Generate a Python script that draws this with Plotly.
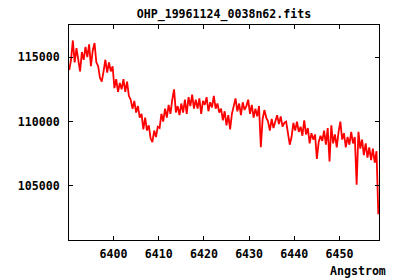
import plotly.graph_objects as go

title_text = "OHP_19961124_0038n62.fits"
x_label = "Angstrom"
wl_start = 6390.2
wl_step = 0.4

flux = [
    114000, 114800, 116300, 114600, 115700, 114900, 113900, 115400, 114800, 115800,
    115000, 116000, 114300, 115500, 116100, 114600, 114300, 113400, 113100, 113900,
    114800, 113800, 114600, 113900, 114300, 112600, 113300, 112300, 113000, 112500,
    113300, 112300, 113100, 112000, 111700, 111000, 111600, 110700, 111200, 110300,
    110600, 109400, 110300, 109300, 109700, 108700, 108400, 109300, 108800, 109600,
    109500, 110600, 110000, 111000, 110300, 111300, 110600, 111700, 112500, 110700,
    111200, 110500, 111400, 110700, 111700, 110600, 111900, 111200, 112100, 111000,
    111700, 111000, 111800, 110600, 111600, 111300, 111900, 110800, 111500, 111100,
    112000, 111000, 111400, 110700, 111000, 110100, 110800, 109700, 110500, 109400,
    110600, 111200, 111800, 110800, 111400, 110500, 111500, 110900, 111200, 111700,
    110600, 111300, 110300, 111000, 110400, 111200, 108000, 110200, 110900, 110300,
    110000, 109300, 110200, 109500, 110000, 110500, 109800, 110400, 109600, 109900,
    110000, 109000, 108200, 108800, 109900, 109300, 110000, 109200, 109600, 108900,
    110100, 109000, 109500, 108300, 109100, 108600, 109000, 107100, 108400, 108900,
    108500, 109300, 108200, 109500, 106900, 109700, 108300, 109000, 108000, 109200,
    110000, 108600, 109100, 108000, 108800, 108200, 109200, 108300, 108800, 105100,
    109200, 107900, 108600, 107400, 108300, 107200, 108000, 107000, 107900, 106800,
    107700, 102800,
]
wavelength = [round(wl_start + wl_step * i, 2) for i in range(len(flux))]

x_ticks = [6400, 6410, 6420, 6430, 6440, 6450]
y_ticks = [105000, 110000, 115000]

font_family = "DejaVu Sans Mono"
tick_font = dict(family=font_family, size=11.6, color="black", weight="bold")

fig = go.Figure()
fig.add_trace(go.Scatter(
    x=wavelength, y=flux, mode="lines",
    line=dict(color="#ff0000", width=1.8),
    showlegend=False, hoverinfo="skip",
))

axis_common = dict(
    showline=True, linecolor="black", linewidth=1, mirror="allticks",
    ticks="inside", ticklen=4, tickcolor="black", tickwidth=1,
    showgrid=False, zeroline=False, tickfont=tick_font,
)

fig.update_layout(
    width=400, height=280,
    margin=dict(l=69, r=21, t=25, b=40),
    paper_bgcolor="white", plot_bgcolor="white",
    title=dict(text=title_text, x=0.5, xref="paper", xanchor="center",
               y=1 - 14 / 280, yanchor="middle", yref="container",
               font=dict(family=font_family, size=11.6, color="black", weight="bold")),
    xaxis=dict(range=[6390.15, 6458.75], tickvals=x_ticks,
               ticktext=[str(v) for v in x_ticks], ticklabelstandoff=3, **axis_common),
    yaxis=dict(range=[100800, 117500], tickvals=y_ticks,
               ticktext=[str(v) for v in y_ticks], ticklabelstandoff=6, **axis_common),
    annotations=[dict(text=x_label, xref="paper", yref="paper",
                      x=(388 - 69) / 310, y=(240 - 271) / 215,
                      xanchor="right", yanchor="middle", showarrow=False,
                      font=dict(family=font_family, size=11.6, color="black", weight="bold"))],
)

fig.write_html("out.html")
